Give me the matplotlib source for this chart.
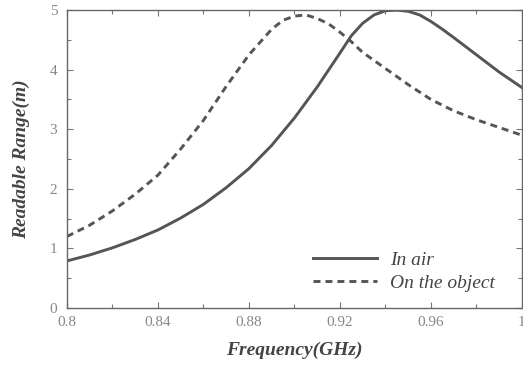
import numpy as np
import matplotlib.pyplot as plt
from matplotlib.ticker import MultipleLocator

# In air
freq_air = [0.80, 0.81, 0.82, 0.83, 0.84, 0.85, 0.86, 0.87, 0.88, 0.89,
            0.90, 0.91, 0.92, 0.925, 0.93, 0.935, 0.94, 0.945, 0.95, 0.955,
            0.96, 0.965, 0.97, 0.98, 0.99, 1.00]
range_air = [0.79, 0.89, 1.01, 1.15, 1.31, 1.51, 1.74, 2.02, 2.34, 2.73,
             3.19, 3.71, 4.28, 4.57, 4.78, 4.92, 4.99, 5.00, 4.98, 4.92,
             4.81, 4.68, 4.54, 4.25, 3.96, 3.70]

# On the object
freq_obj = [0.80, 0.81, 0.82, 0.83, 0.84, 0.85, 0.86, 0.87, 0.88, 0.89,
            0.895, 0.90, 0.905, 0.91, 0.915, 0.92, 0.925, 0.93, 0.94, 0.95,
            0.96, 0.97, 0.98, 0.99, 1.00]
range_obj = [1.20, 1.39, 1.63, 1.91, 2.23, 2.67, 3.15, 3.72, 4.25, 4.68,
             4.83, 4.90, 4.92, 4.86, 4.77, 4.63, 4.47, 4.29, 4.02, 3.75,
             3.50, 3.31, 3.16, 3.03, 2.90]

xticks = [0.8, 0.84, 0.88, 0.92, 0.96, 1.0]
xticklabels = ['0.8', '0.84', '0.88', '0.92', '0.96', '1']

plt.rcParams['font.family'] = 'Liberation Serif'
line_col = '#555555'
txt_col = '#444444'

fig = plt.figure(figsize=(5.23, 3.70), dpi=100)
ax = fig.add_axes([0.128, 0.1676, 0.870, 0.805])

ax.plot(freq_air, range_air, color=line_col, lw=2.1, label='In air')
ax.plot(freq_obj, range_obj, color=line_col, lw=2.1,
        linestyle=(0, (2.4, 1.7)), label='On the object')

ax.set_xlim(0.8, 1.0)
ax.set_ylim(0, 5)
ax.set_xticks(xticks)
ax.set_xticklabels(xticklabels)
ax.xaxis.set_minor_locator(MultipleLocator(0.02))
ax.yaxis.set_major_locator(MultipleLocator(1))
ax.yaxis.set_minor_locator(MultipleLocator(0.5))
ax.tick_params(which='both', direction='in', top=True, right=True,
               color='#777777', labelcolor='#888888', labelsize=11)
ax.tick_params(axis='x', pad=6)
ax.tick_params(axis='y', pad=7)
ax.tick_params(which='major', length=4, width=0.8)
ax.tick_params(which='minor', length=3, width=0.8)
for s in ax.spines.values():
    s.set_color('#666666')
    s.set_linewidth(1.0)

ax.set_xlabel('Frequency(GHz)', fontsize=14, fontweight='bold',
              style='italic', color=txt_col, labelpad=9)
ax.set_ylabel('Readable Range(m)', fontsize=14, fontweight='bold',
              style='italic', color=txt_col, labelpad=14)

leg = ax.legend(loc='lower left', bbox_to_anchor=(0.54, 0.055), frameon=False,
                borderpad=0, borderaxespad=0, handlelength=3.3,
                handletextpad=0.7, labelspacing=0.25,
                prop={'family': 'Liberation Serif', 'style': 'italic', 'size': 14})
for t in leg.get_texts():
    t.set_color(txt_col)

fig.savefig('out.png', dpi=100)
